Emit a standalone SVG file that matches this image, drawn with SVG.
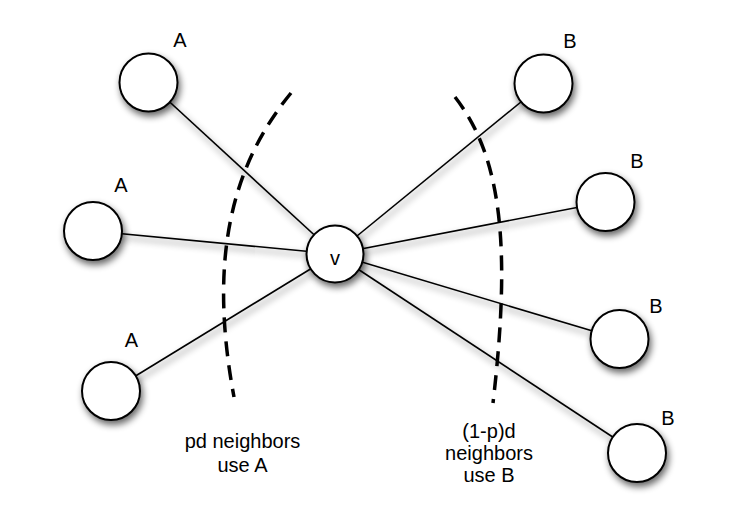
<svg xmlns="http://www.w3.org/2000/svg" width="736" height="522" viewBox="0 0 736 522">
<defs>
<filter id="sh" x="-30%" y="-30%" width="160%" height="160%">
<feGaussianBlur in="SourceAlpha" stdDeviation="3.5"/>
<feOffset dx="2" dy="4" result="b"/>
<feComponentTransfer><feFuncA type="linear" slope="0.6"/></feComponentTransfer>
<feMerge><feMergeNode/><feMergeNode in="SourceGraphic"/></feMerge>
</filter>
</defs>
<style>
.e{stroke:#000;stroke-width:1.6;fill:none}
.n{fill:#fff;stroke:#000;stroke-width:2}
.d{fill:none;stroke:#000;stroke-width:3.5;stroke-dasharray:15 9}
text{font-family:"Liberation Sans",Arial,sans-serif;font-size:20px;fill:#000;text-anchor:middle}
</style>
<rect width="736" height="522" fill="#fff"/>
<g id="connectors" filter="url(#sh)">
<line class="e" x1="148.5" y1="82.5" x2="335" y2="254"/>
<line class="e" x1="93" y1="231" x2="335" y2="254"/>
<line class="e" x1="111" y1="391" x2="335" y2="254"/>
<line class="e" x1="543.5" y1="83.5" x2="335" y2="254"/>
<line class="e" x1="605.5" y1="202" x2="335" y2="254"/>
<line class="e" x1="619.5" y1="339" x2="335" y2="254"/>
<line class="e" x1="637" y1="453" x2="335" y2="254"/>
</g>
<g id="cuts">
<path class="d" d="M 291 93 C 232 165, 208 258, 234 397"/>
<path class="d" d="M 455 97 C 500 155, 512 240, 493 403"/>
</g>
<g id="node-v"><circle class="n" filter="url(#sh)" cx="335" cy="254" r="28.5"/><text x="335" y="265">v</text></g>
<g id="node-a1"><circle class="n" filter="url(#sh)" cx="148.5" cy="82.5" r="29"/><text x="180" y="47">A</text></g>
<g id="node-a2"><circle class="n" filter="url(#sh)" cx="93" cy="231" r="29"/><text x="121" y="192">A</text></g>
<g id="node-a3"><circle class="n" filter="url(#sh)" cx="111" cy="391" r="29"/><text x="131.5" y="347">A</text></g>
<g id="node-b1"><circle class="n" filter="url(#sh)" cx="543.5" cy="83.5" r="29"/><text x="570" y="48">B</text></g>
<g id="node-b2"><circle class="n" filter="url(#sh)" cx="605.5" cy="202" r="29"/><text x="637" y="168">B</text></g>
<g id="node-b3"><circle class="n" filter="url(#sh)" cx="619.5" cy="339" r="29"/><text x="656" y="313">B</text></g>
<g id="node-b4"><circle class="n" filter="url(#sh)" cx="637" cy="453" r="29"/><text x="668" y="425">B</text></g>
<g id="labels">
<text x="242.5" y="448">pd neighbors</text>
<text x="242.5" y="471.5">use A</text>
<text x="489" y="438">(1-p)d</text>
<text x="489" y="460">neighbors</text>
<text x="489" y="482">use B</text>
</g>
</svg>
